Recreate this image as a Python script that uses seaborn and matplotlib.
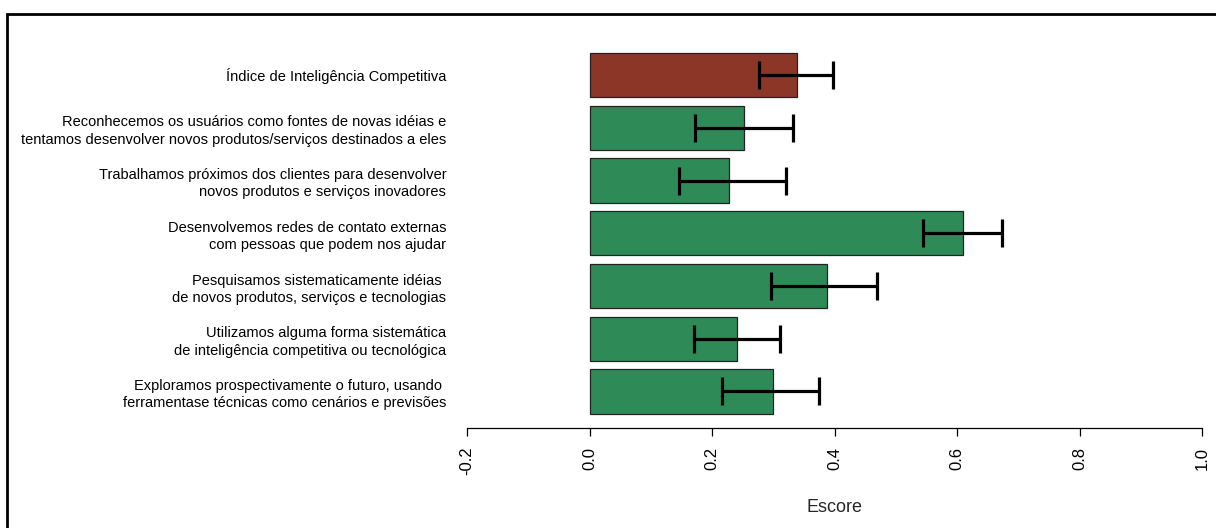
import matplotlib
matplotlib.use("Agg")
import matplotlib.pyplot as plt
from matplotlib.patches import Rectangle
import seaborn as sns
import pandas as pd

# Items of the competitive-intelligence index and their mean scores
itens = [
    "Índice de Inteligência Competitiva",
    "Reconhecemos os usuários como fontes de novas idéias e\ntentamos desenvolver novos produtos/serviços destinados a eles",
    "Trabalhamos próximos dos clientes para desenvolver\nnovos produtos e serviços inovadores",
    "Desenvolvemos redes de contato externas\ncom pessoas que podem nos ajudar",
    "Pesquisamos sistematicamente idéias \nde novos produtos, serviços e tecnologias",
    "Utilizamos alguma forma sistemática\nde inteligência competitiva ou tecnológica",
    "Exploramos prospectivamente o futuro, usando \nferramentase técnicas como cenários e previsões",
]
escore = [0.338, 0.253, 0.228, 0.610, 0.387, 0.240, 0.300]
ic_inf = [0.276, 0.173, 0.146, 0.545, 0.296, 0.170, 0.217]
ic_sup = [0.397, 0.333, 0.321, 0.673, 0.470, 0.311, 0.374]
cores = ["#8B3626"] + ["#2E8B57"] * 6
x_ticks = [-0.2, 0.0, 0.2, 0.4, 0.6, 0.8, 1.0]
x_tick_labels = ["-0.2", "0.0", "0.2", "0.4", "0.6", "0.8", "1.0"]

sns.set_style("white")
plt.rcParams["font.family"] = ["Liberation Sans", "DejaVu Sans"]

W, H = 1216, 528
fig = plt.figure(figsize=(W / 100, H / 100), dpi=100)

ax_left, ax_right, ax_top, ax_bottom = 467, 1202, 30, 428
ax = fig.add_axes([ax_left / W, 1 - ax_bottom / H,
                   (ax_right - ax_left) / W, (ax_bottom - ax_top) / H])

df = pd.DataFrame({"item": itens, "escore": escore})
sns.barplot(data=df, x="escore", y="item", hue="item", palette=cores,
            legend=False, orient="h", width=0.835, edgecolor="#222222",
            linewidth=0.9, saturation=1, ax=ax)

pos = list(range(len(itens)))
err = [[e - lo for e, lo in zip(escore, ic_inf)],
       [hi - e for e, hi in zip(escore, ic_sup)]]
ax.errorbar(escore, pos, xerr=err, fmt="none", ecolor="black",
            elinewidth=2.3, capsize=10, capthick=2.3, zorder=5)

# vertical range: first bar centre at 75 px, 52.75 px between bars
first_c, step = 75, 52.75
ax.set_ylim(6 + (ax_bottom - (first_c + 6 * step)) / step,
            -(first_c - ax_top) / step)
ax.set_xlim(-0.2, 1.0)

ax.set_xticks(x_ticks)
ax.set_xticklabels(x_tick_labels, rotation=90, fontsize=12)
ax.tick_params(axis="x", bottom=True, direction="out", length=5.5,
               width=0.9, pad=8, colors="black")
ax.tick_params(axis="y", left=False, length=0, pad=15, labelsize=10.5,
               labelcolor="black")
for t in ax.get_yticklabels():
    t.set_linespacing(1.3)

for s in ["left", "top", "right"]:
    ax.spines[s].set_visible(False)
ax.spines["bottom"].set_bounds(-0.2, 1.0)
ax.spines["bottom"].set_linewidth(0.9)
ax.spines["bottom"].set_color("black")

ax.set_ylabel("")
ax.set_xlabel("Escore", fontsize=13, labelpad=17)

# outer frame around the figure
fig.add_artist(Rectangle((7 / W, -0.2), 1.2, 1 - 14 / H + 0.2,
                         transform=fig.transFigure, fill=False,
                         edgecolor="black", linewidth=2))

fig.savefig("out.png", dpi=100)
